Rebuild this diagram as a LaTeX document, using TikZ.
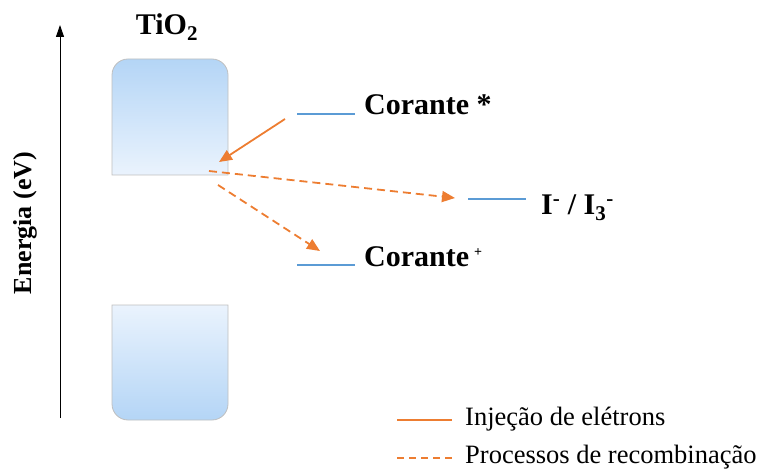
\documentclass[tikz,border=0pt]{standalone}
\usepackage{fontspec}
\setmainfont{Liberation Serif}
\usetikzlibrary{arrows.meta}
\definecolor{orng}{HTML}{ED7D31}
\definecolor{blu}{HTML}{5B9BD5}
\definecolor{bdark}{HTML}{B4D5F6}
\definecolor{blight}{HTML}{EAF3FD}
\definecolor{bord}{HTML}{BFBFBF}
\begin{document}
\begin{tikzpicture}[x=1pt,y=-1pt,
  lbl/.style={font=\fontsize{30}{32}\selectfont\bfseries,inner sep=0pt,anchor=base west},
  leg/.style={font=\fontsize{26.5}{28}\selectfont,inner sep=0pt,anchor=west},
  level/.style={draw=blu,line width=1.4pt},
  inj/.style={draw=orng,line width=1.8pt,-{Triangle[length=13pt,width=11pt]}},
  rec/.style={inj,dash pattern=on 8pt off 5pt},
  band/.style={draw=bord,line width=0.8pt}]
\useasboundingbox (0,0) rectangle (760,470);
% axis
\coordinate (ax0) at (60,418);
\coordinate (ax1) at (60,25);
\draw[line width=1pt,-{Triangle[length=12pt,width=8pt]}] (ax0) -- (ax1);
\node[font=\fontsize{26}{28}\selectfont\bfseries,rotate=90,inner sep=0pt] (en) at (25,223) {Energia (eV)};
% TiO2
\node[lbl,anchor=base] (tio) at (167,35) {TiO\textsubscript{2}};
% bands
\shade[band,top color=bdark,bottom color=blight]
  (112,175) [rounded corners=16pt] -- (112,59) -- (228,59) [sharp corners] -- (228,175) -- cycle;
\shade[band,top color=blight,bottom color=bdark]
  (112,305) [rounded corners=16pt] -- (112,420) -- (228,420) [sharp corners] -- (228,305) -- cycle;
% levels
\coordinate (c1a) at (297,114); \coordinate (c1b) at (355,114);
\coordinate (c2a) at (297,265); \coordinate (c2b) at (355,265);
\coordinate (c3a) at (468,199); \coordinate (c3b) at (526,199);
\draw[level] (c1a) -- (c1b);
\draw[level] (c2a) -- (c2b);
\draw[level] (c3a) -- (c3b);
\node[lbl] (cst) at (364,115) {Corante *};
\node[lbl] (cpl) at (364,266) {Corante\,\textsuperscript{\fontsize{14}{14}\selectfont +}};
\node[lbl,anchor=base west] (iod) at (541,215) {I\textsuperscript{-} / I\textsubscript{3}\textsuperscript{-}};
% arrows
\coordinate (s0) at (285,119); \coordinate (s1) at (219,162);
\coordinate (d0) at (209,171); \coordinate (d1) at (455,198);
\coordinate (e0) at (218,185); \coordinate (e1) at (320,251);
\draw[inj] (s0) -- (s1);
\draw[rec] (d0) -- (d1);
\draw[rec] (e0) -- (e1);
% legend
\coordinate (l1a) at (397,420); \coordinate (l1b) at (452,420);
\coordinate (l2a) at (397,458); \coordinate (l2b) at (452,458);
\draw[draw=orng,line width=1.6pt] (l1a) -- (l1b);
\draw[draw=orng,line width=1.6pt,dash pattern=on 7pt off 5pt] (l2a) -- (l2b);
\node[leg] (t1) at (465,419) {Injeção de elétrons};
\node[leg] (t2) at (465,457) {Processos de recombinação};
\end{tikzpicture}
\end{document}
